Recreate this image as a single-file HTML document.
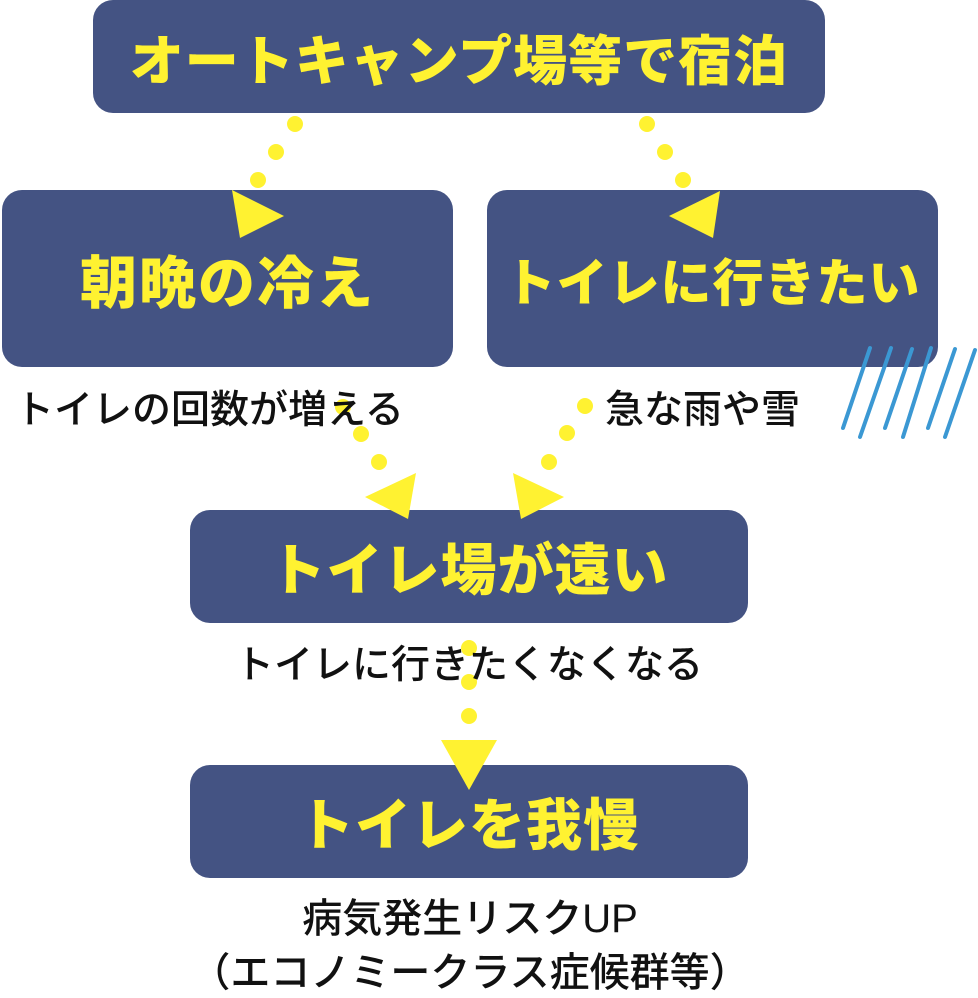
<!DOCTYPE html>
<html><head><meta charset="utf-8"><style>
body{margin:0;width:978px;height:998px;background:#fff;position:relative;overflow:hidden;font-family:"Liberation Sans","Noto Sans CJK JP",sans-serif}
.b{position:absolute;background:#445383;border-radius:20px;color:#fff231;font-weight:900;display:flex;align-items:center;justify-content:center;font-size:54px;letter-spacing:1px}
.t{position:absolute;color:#111;font-size:39px;font-weight:500;white-space:nowrap;line-height:44px}
svg{position:absolute;left:0;top:0}
</style></head><body>
<div class="b" style="left:93px;top:0;width:732px;height:113px">オートキャンプ場等で宿泊</div>
<div class="b" style="left:2px;top:190px;width:451px;height:177px;font-size:57px;letter-spacing:2px">朝晩の冷え</div>
<div class="b" style="left:487px;top:190px;width:451px;height:177px;font-size:51px">トイレに行きたい</div>
<div class="b" style="left:190px;top:510px;width:558px;height:113px;font-size:56px">トイレ場が遠い</div>
<div class="b" style="left:190px;top:765px;width:558px;height:113px;font-size:56px">トイレを我慢</div>
<svg width="978" height="998" viewBox="0 0 978 998">
<g fill="#fff231">
<circle cx="295" cy="124" r="8"/><circle cx="276" cy="152" r="8"/><circle cx="258" cy="180" r="8"/>
<polygon points="232,190 284,216 240,238"/>
<circle cx="647" cy="124" r="8"/><circle cx="665" cy="152" r="8"/><circle cx="683" cy="180" r="8"/>
<polygon points="720,191 669,216 713,238"/>
<circle cx="343" cy="407" r="8"/><circle cx="361" cy="434" r="8"/><circle cx="379" cy="462" r="8"/>
<polygon points="416,473 365,497 408,519"/>
<circle cx="585" cy="406" r="8"/><circle cx="567" cy="433" r="8"/><circle cx="549" cy="462" r="8"/>
<polygon points="513,473 564,497 521,519"/>
<circle cx="469" cy="648" r="8"/><circle cx="469" cy="682" r="8"/><circle cx="469" cy="716" r="8"/>
<polygon points="441,740 497,740 469,790"/>
</g>
<g stroke="#3b98d3" stroke-width="4" stroke-linecap="round">
<line x1="870" y1="348" x2="843" y2="428"/><line x1="891" y1="348" x2="860" y2="437"/>
<line x1="912" y1="349" x2="885" y2="428"/><line x1="931" y1="348" x2="903" y2="437"/>
<line x1="955" y1="349" x2="928" y2="428"/><line x1="975" y1="350" x2="945" y2="437"/>
</g>
</svg>
<div class="t" style="left:15px;top:389px">トイレの回数が増える</div>
<div class="t" style="left:605px;top:389px">急な雨や雪</div>
<div class="t" style="left:235px;top:644px">トイレに行きたくなくなる</div>
<div class="t" style="left:0;width:940px;text-align:center;top:897px;font-size:40px">病気発生リスクUP</div>
<div class="t" style="left:0;width:940px;text-align:center;top:951px;font-size:40px">（エコノミークラス症候群等）</div>
</body></html>
